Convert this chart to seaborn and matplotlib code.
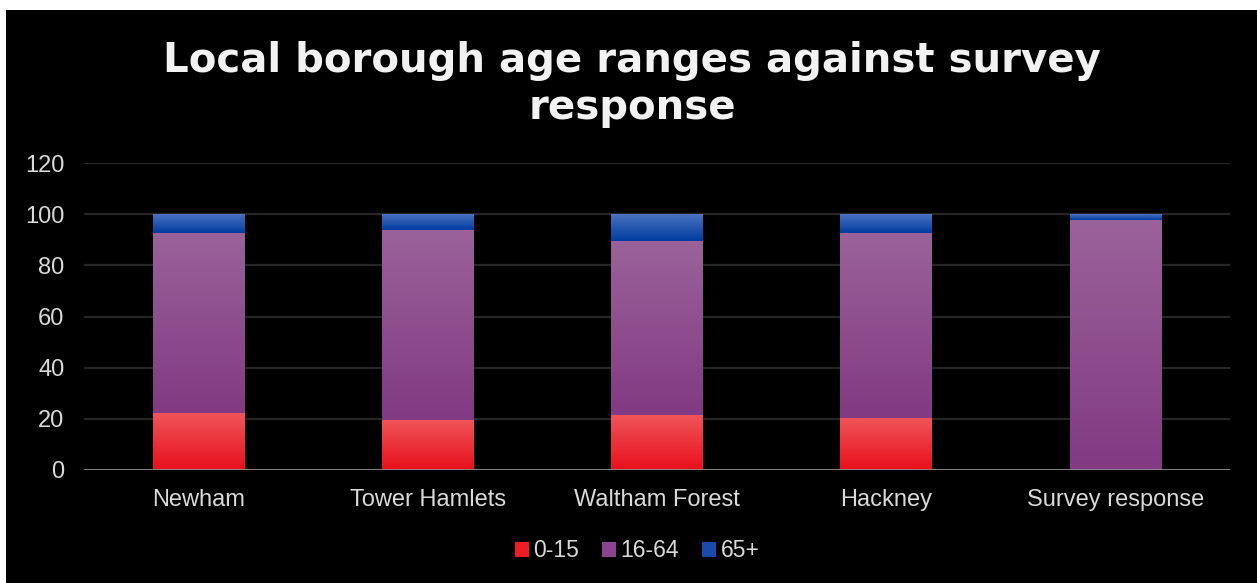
import numpy as np
import pandas as pd
import matplotlib
matplotlib.use("Agg")
import matplotlib.pyplot as plt
from matplotlib.colors import LinearSegmentedColormap
from matplotlib.patches import Rectangle, Patch
import seaborn as sns

boroughs = ["Newham", "Tower Hamlets", "Waltham Forest", "Hackney", "Survey response"]
age_0_15 = [22.4, 19.6, 21.6, 20.4, 0.0]
age_16_64 = [70.2, 74.2, 68.0, 72.2, 97.7]
age_65 = [7.4, 6.2, 10.4, 7.4, 2.3]
groups = ["0-15", "16-64", "65+"]

# top and bottom colour of each gradient
grad = {
    "0-15": ("#f0555a", "#e8101c"),
    "16-64": ("#9a629a", "#823a82"),
    "65+": ("#4a72c0", "#003ca0"),
}
solid = {"0-15": "#ee1c25", "16-64": "#8c4391", "65+": "#1a4aaa"}

sns.set_style("dark")
plt.rcParams["font.family"] = ["Liberation Sans", "DejaVu Sans"]

fig = plt.figure(figsize=(12.57, 5.83), dpi=100, facecolor="white")
fig.patches.append(Rectangle((6 / 1257, 0), 1, (583 - 10) / 583, transform=fig.transFigure,
                             facecolor="black", edgecolor="none", zorder=-10))
ax = fig.add_axes([84 / 1257, 113 / 583, 1146 / 1257, 307 / 583])
ax.set_facecolor("black")

df = pd.DataFrame({"borough": boroughs, "0-15": age_0_15, "16-64": age_16_64, "65+": age_65})
bottom = np.zeros(len(df))
for g in groups:
    n_before = len(ax.patches)
    sns.barplot(data=df, x="borough", y=g, bottom=bottom, color=solid[g], width=0.4,
                saturation=1, linewidth=0, edgecolor="none", ax=ax, zorder=3)
    top_c, bot_c = grad[g]
    cmap = LinearSegmentedColormap.from_list(g, [bot_c, top_c])
    for p in ax.patches[n_before:]:
        x0, y0 = p.get_x(), p.get_y()
        w, h = p.get_width(), p.get_height()
        if h <= 0:
            continue
        im = ax.imshow(np.linspace(0, 1, 100).reshape(-1, 1), cmap=cmap, aspect="auto",
                       origin="lower", extent=[x0, x0 + w, y0, y0 + h], zorder=4)
        im.set_clip_path(p)
    bottom = bottom + df[g].values

ax.set_xlim(-0.5, 4.5)
ax.set_ylim(0, 120)
ax.set_yticks(range(0, 121, 20))
ax.grid(axis="y", color="#262626", linewidth=1.6, zorder=0)
ax.grid(axis="x", visible=False)
ax.axhline(0, color="#8c8c8c", linewidth=2, zorder=5)
for s in ax.spines.values():
    s.set_visible(False)
ax.set_xlabel("")
ax.set_ylabel("")
ax.tick_params(axis="both", length=0, colors="#d9d9d9", labelsize=17)
ax.tick_params(axis="x", pad=14)
ax.tick_params(axis="y", pad=14)

fig.text(0.503, 0.855, "Local borough age ranges against survey\nresponse", ha="center", va="center",
         color="#f2f2f2", fontsize=29, fontweight="bold", linespacing=1.25,
         family=["DejaVu Sans"])

handles = [Patch(facecolor=solid[g], edgecolor="none", label=g) for g in groups]
fig.legend(handles=handles, loc="center", bbox_to_anchor=(0.507, 0.055), ncol=3, frameon=False,
           fontsize=16.5, labelcolor="#d9d9d9", handlelength=0.6, handleheight=0.6,
           handletextpad=0.2, columnspacing=1.0)

fig.savefig("out.png", dpi=100, facecolor=fig.get_facecolor())
